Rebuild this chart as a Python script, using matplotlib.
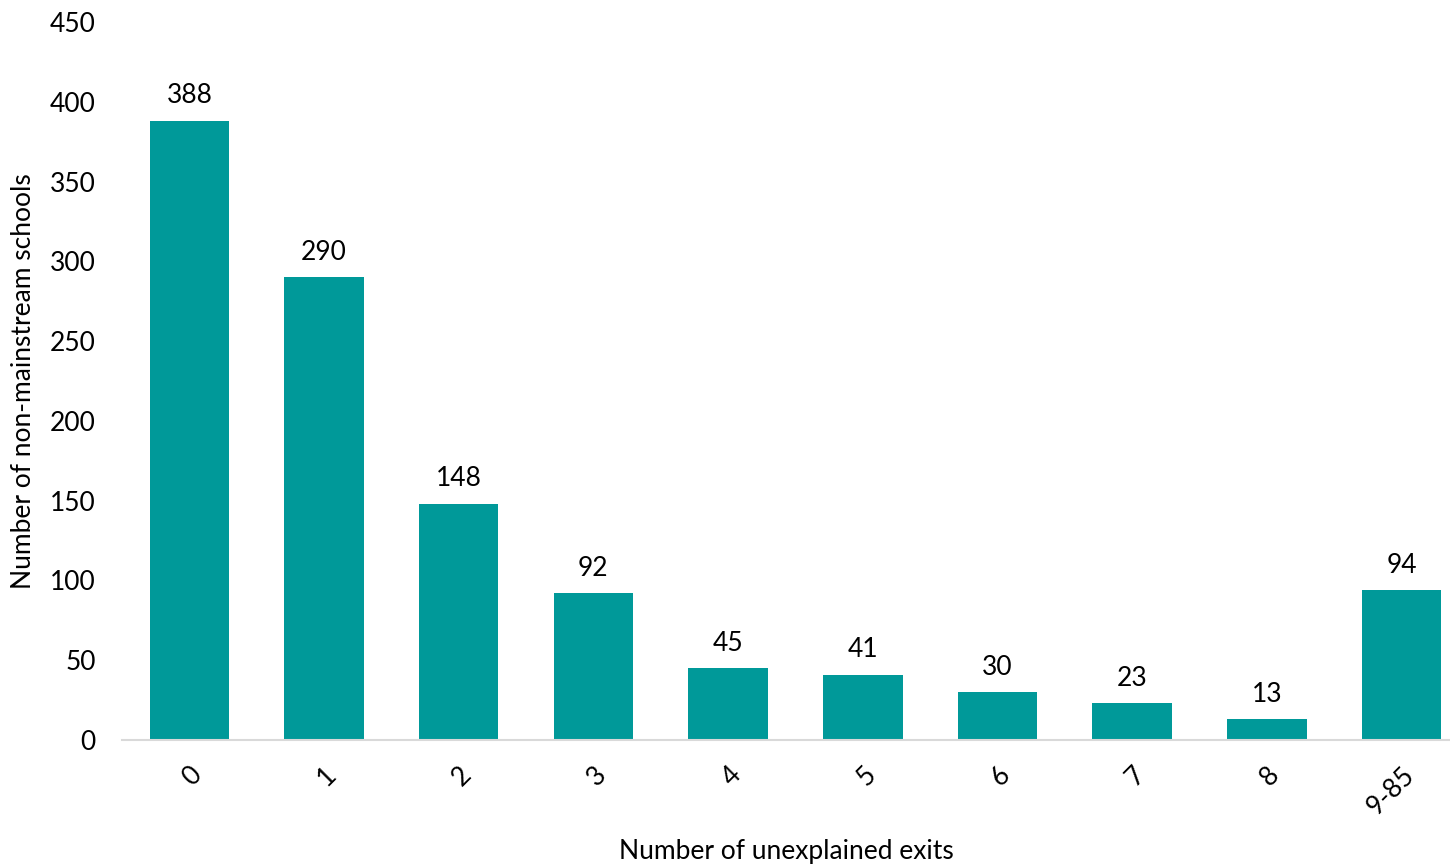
import matplotlib
matplotlib.use("Agg")
import matplotlib.pyplot as plt

categories = ["0", "1", "2", "3", "4", "5", "6", "7", "8", "9-85"]
values = [388, 290, 148, 92, 45, 41, 30, 23, 13, 94]
y_ticks = [0, 50, 100, 150, 200, 250, 300, 350, 400, 450]

plt.rcParams['font.family'] = ['Lato', 'DejaVu Sans']
color = "#009999"
fs = 19

fig = plt.figure(figsize=(14.5, 8.66), dpi=100)
ax = fig.add_axes([122/1450, 1-740/866, 1-122/1450, (740-22)/866])
x = list(range(len(categories)))
ax.bar(x, values, width=0.59, color=color, zorder=2)
for xi, v in zip(x, values):
    ax.annotate(str(v), (xi, v), xytext=(0, 9), textcoords="offset points",
                ha="center", va="bottom", fontsize=fs, color="black")
ax.set_xlim(-0.5, 9.36)
ax.set_ylim(0, 450)
ax.set_yticks(y_ticks)
ax.set_yticklabels([str(t) for t in y_ticks], fontsize=fs)
ax.set_xticks(x)
ax.set_xticklabels(categories, rotation=45, ha="right", rotation_mode="anchor", fontsize=fs)
for s in ["top", "right", "left"]:
    ax.spines[s].set_visible(False)
ax.spines["bottom"].set_color("#d9d9d9")
ax.spines["bottom"].set_linewidth(1.5)
ax.tick_params(axis="both", length=0)
ax.tick_params(axis="y", pad=19)
ax.tick_params(axis="x", pad=16)
ax.set_ylabel("Number of non-mainstream schools", fontsize=fs, labelpad=10)
ax.set_xlabel("Number of unexplained exits", fontsize=fs, labelpad=14)
fig.savefig("out.png", dpi=100)
